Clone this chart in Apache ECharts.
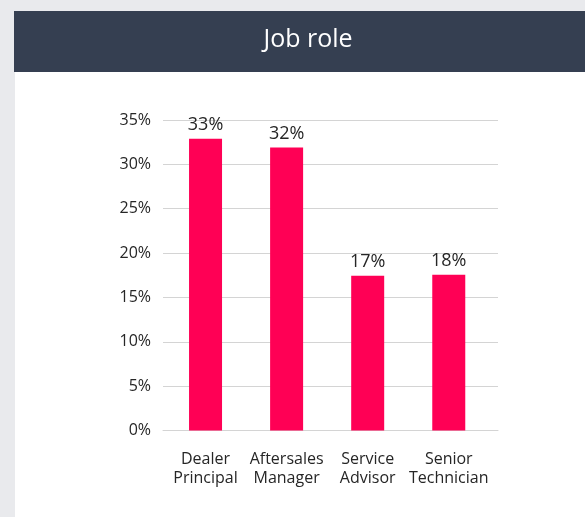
<!DOCTYPE html>
<html>
<head>
<meta charset="utf-8">
<script src="https://cdn.jsdelivr.net/npm/echarts@6/dist/echarts.min.js"></script>
<style>
html,body{margin:0;padding:0;background:#e9eaed;}
#chart{width:585px;height:517px;}
</style>
</head>
<body>
<div id="chart"></div>
<script>
const titleText = 'Job role';
const categories = ['Dealer\nPrincipal', 'Aftersales\nManager', 'Service\nAdvisor', 'Senior\nTechnician'];
const values = [32.9, 31.9, 17.45, 17.55];
const yTicks = [0, 5, 10, 15, 20, 25, 30, 35];

const FONT = '"Open Sans", "Noto Sans", sans-serif';
const chart = echarts.init(document.getElementById('chart'), null, {renderer: 'canvas'});
const yMin = yTicks[0], yMax = yTicks[yTicks.length - 1], yStep = yTicks[1] - yTicks[0];

chart.setOption({
  backgroundColor: '#e9eaed',
  animation: false,
  graphic: [
    {type: 'rect', z: -10, shape: {x: 15, y: 72, width: 570, height: 445}, style: {fill: '#ffffff'}, silent: true},
    {type: 'rect', z: -10, shape: {x: 14, y: 11, width: 571, height: 61}, style: {fill: '#353f51'}, silent: true},
    {type: 'text', x: 308, y: 40, style: {text: titleText, fill: '#ffffff', fontSize: 25, fontFamily: FONT, align: 'center', verticalAlign: 'middle'}, silent: true}
  ],
  grid: [
    {left: 163, right: 87, top: 120, bottom: 86.5},
    {left: 165, width: 324.3, top: 120, bottom: 86.5}
  ],
  xAxis: [
    {type: 'category', gridIndex: 0, data: categories, axisLine: {show: true, lineStyle: {color: '#d4d4d4', width: 1}}, axisTick: {show: false}, axisLabel: {show: false}, splitLine: {show: false}},
    {type: 'category', gridIndex: 1, data: categories, axisLine: {show: false}, axisTick: {show: false},
     axisLabel: {color: '#262626', fontSize: 16, fontFamily: FONT, lineHeight: 19, margin: 19, interval: 0}}
  ],
  yAxis: [
    {type: 'value', gridIndex: 0, min: yMin, max: yMax, interval: yStep,
     axisLine: {show: false}, axisTick: {show: false},
     axisLabel: {formatter: '{value}%', color: '#262626', fontSize: 16, fontFamily: FONT, margin: 12},
     splitLine: {lineStyle: {color: '#d4d4d4', width: 1}}},
    {type: 'value', gridIndex: 1, min: yMin, max: yMax, interval: yStep, show: false, splitLine: {show: false}}
  ],
  series: [{
    type: 'bar',
    xAxisIndex: 1, yAxisIndex: 1,
    data: values,
    barWidth: 33,
    itemStyle: {color: '#ff0055'},
    label: {show: true, position: 'top', distance: 4.5, color: '#262626', fontSize: 18, fontFamily: FONT,
      formatter: p => Math.round(p.value) + '%'}
  }]
});
</script>
</body>
</html>
